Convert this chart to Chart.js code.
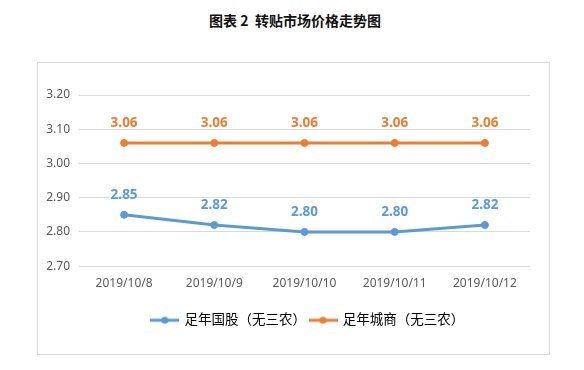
<!DOCTYPE html>
<html>
<head>
<meta charset="utf-8">
<script src="https://cdn.jsdelivr.net/npm/chart.js@4/dist/chart.umd.min.js"></script>
<style>
  body { margin: 0; background: #fff; width: 584px; height: 370px; position: relative; overflow: hidden; }
  .title {
    position: absolute; left: 0; top: 10px; width: 590px; text-align: center;
    font: bold 14px "Noto Sans CJK SC", sans-serif; color: #111; line-height: 20px;
  }
  .box {
    position: absolute; left: 37px; top: 62px; width: 513px; height: 293px;
    box-sizing: border-box; border: 1px solid #d9d9d9;
  }
  #chart { position: absolute; left: 0; top: 0; }
</style>
</head>
<body>
<div class="title">图表 2&nbsp;&nbsp;转贴市场价格走势图</div>
<div class="box"><canvas id="chart" width="511" height="291"></canvas></div>
<script>
const categories = ["2019/10/8", "2019/10/9", "2019/10/10", "2019/10/11", "2019/10/12"];
const guoguValues = [2.85, 2.82, 2.80, 2.80, 2.82];
const chengshangValues = [3.06, 3.06, 3.06, 3.06, 3.06];
const seriesNames = ["足年国股（无三农）", "足年城商（无三农）"];
const yTicks = [2.70, 2.80, 2.90, 3.00, 3.10, 3.20];

const BLUE = "#5b9bd5";
const ORANGE = "#ed7d31";
const FONT = '"Noto Sans", "Noto Sans CJK SC", sans-serif';

// little line-with-dot image for the legend
function legendMark(color) {
  const c = document.createElement("canvas");
  c.width = 29; c.height = 10;
  const g = c.getContext("2d");
  g.strokeStyle = color; g.lineWidth = 3;
  g.beginPath(); g.moveTo(0, 5); g.lineTo(29, 5); g.stroke();
  g.fillStyle = color;
  g.beginPath(); g.arc(14.5, 5, 3.5, 0, Math.PI * 2); g.fill();
  return c;
}
const marks = [legendMark(BLUE), legendMark(ORANGE)];

const valueLabels = {
  id: "valueLabels",
  afterDatasetsDraw(chart) {
    const ctx = chart.ctx;
    ctx.save();
    ctx.font = "bold 13.5px " + FONT;
    ctx.textAlign = "center";
    ctx.textBaseline = "middle";
    chart.data.datasets.forEach((ds, i) => {
      const meta = chart.getDatasetMeta(i);
      ctx.fillStyle = ds.borderColor;
      meta.data.forEach((pt, j) => {
        ctx.fillText(ds.data[j].toFixed(2), pt.x, pt.y - 20);
      });
    });
    ctx.restore();
  }
};

// legend sits a bit right of centre in the original
const nudgeLegend = {
  id: "nudgeLegend",
  afterLayout(chart) {
    chart.legend.left += 24;
    chart.legend.right += 24;
  }
};

new Chart(document.getElementById("chart"), {
  type: "line",
  data: {
    labels: categories,
    datasets: [
      {
        label: seriesNames[0],
        data: guoguValues,
        borderColor: BLUE,
        backgroundColor: BLUE,
        borderWidth: 3,
        pointRadius: 3.5,
        pointBorderWidth: 1,
        tension: 0
      },
      {
        label: seriesNames[1],
        data: chengshangValues,
        borderColor: ORANGE,
        backgroundColor: ORANGE,
        borderWidth: 3,
        pointRadius: 3.5,
        pointBorderWidth: 1,
        tension: 0
      }
    ]
  },
  options: {
    responsive: false,
    animation: false,
    layout: { padding: { top: 32, right: 19, left: 0, bottom: 17 } },
    plugins: {
      tooltip: { enabled: false },
      legend: {
        position: "bottom",
        labels: {
          usePointStyle: true,
          pointStyleWidth: 26,
          padding: 4,
          color: "#000",
          font: { family: FONT, size: 13.5 },
          generateLabels(chart) {
            const items = Chart.defaults.plugins.legend.labels.generateLabels(chart);
            items.forEach((it, i) => { it.pointStyle = marks[i]; });
            return items;
          }
        }
      }
    },
    scales: {
      x: {
        offset: true,
        grid: { display: false },
        border: { display: false },
        afterFit(scale) { scale.height += 17; },
        ticks: { color: "#595959", font: { family: FONT, size: 12 }, padding: 2, maxRotation: 0 }
      },
      y: {
        min: yTicks[0],
        max: yTicks[yTicks.length - 1],
        afterBuildTicks(scale) { scale.ticks = yTicks.map(v => ({ value: v })); },
        afterFit(scale) { scale.width = 41; },
        grid: { color: "#d9d9d9", drawTicks: false },
        border: { display: false },
        ticks: {
          color: "#595959",
          font: { family: FONT, size: 12 },
          padding: 9,
          callback: v => Number(v).toFixed(2)
        }
      }
    }
  },
  plugins: [valueLabels, nudgeLegend]
});
</script>
</body>
</html>
